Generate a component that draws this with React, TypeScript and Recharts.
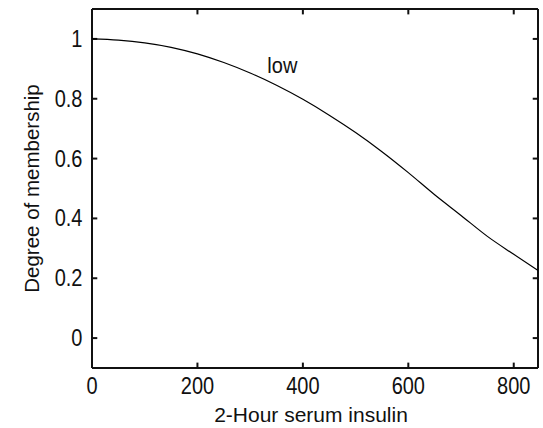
import { LineChart, Line, XAxis, YAxis, ReferenceDot, ReferenceLine } from "recharts";

// Membership curve
const insulin = [0, 50, 100, 150, 200, 250, 300, 350, 400, 450, 500, 550, 600, 650, 700, 750, 800, 846];
const membership = [1.0, 0.996, 0.987, 0.972, 0.95, 0.921, 0.886, 0.845, 0.798, 0.745, 0.687, 0.623, 0.553, 0.479, 0.41, 0.34, 0.28, 0.226];

const xTicks = [0, 200, 400, 600, 800];
const yTicks = [0, 0.2, 0.4, 0.6, 0.8, 1];
const xTitle = "2-Hour serum insulin";
const yTitle = "Degree of membership";
const curveLabel = "low";

const data = insulin.map((x, i) => ({ x, y: membership[i] }));

const FONT = "'Liberation Sans', Arial, Helvetica, sans-serif";
const FS = 20;
const STRETCH = 1.17; // the original's lettering is a bit taller than wide
const INK = "#111";
const X_MIN = 0;
const X_MAX = 846;
const Y_MIN = -0.1;
const Y_MAX = 1.1;
// inward tick length (~5px) expressed in axis units
const TICK_X = 10;
const TICK_Y = 0.018;

function BottomTick(props: any) {
  const { x, y, payload } = props;
  return (
    <text transform={`translate(${x}, ${y + 26}) scale(1, ${STRETCH})`} textAnchor="middle" fill={INK} fontSize={FS} fontFamily={FONT}>
      {String(payload.value)}
    </text>
  );
}

function LeftTick(props: any) {
  const { x, y, payload } = props;
  return (
    <text transform={`translate(${x - 9.5}, ${y + 8}) scale(1, ${STRETCH})`} textAnchor="end" fill={INK} fontSize={FS} fontFamily={FONT}>
      {String(payload.value)}
    </text>
  );
}

function XTitle(props: any) {
  const vb = props.viewBox || { x: 92, y: 368, width: 446, height: 60 };
  return (
    <text x={vb.x + vb.width / 2 - 4} y={422} textAnchor="middle" fill={INK} fontSize={21} fontFamily={FONT}>
      {xTitle}
    </text>
  );
}

function YTitle(props: any) {
  const vb = props.viewBox || { y: 9, height: 359 };
  const cx = 38.5;
  const cy = vb.y + vb.height / 2;
  return (
    <text x={cx} y={cy} transform={`rotate(-90, ${cx}, ${cy})`} textAnchor="middle" fill={INK} fontSize={20.5} fontFamily={FONT}>
      {yTitle}
    </text>
  );
}

function CurveLabel(props: any) {
  const vb = props.viewBox || { x: 0, y: 0 };
  return (
    <text transform={`translate(${vb.x}, ${vb.y}) scale(1, 1.1)`} textAnchor="middle" fill={INK} fontSize={FS} fontFamily={FONT}>
      {curveLabel}
    </text>
  );
}

export default function App() {
  const ref = { xAxisId: "b", yAxisId: "l", strokeWidth: 2, ifOverflow: "visible" as const };
  return (
    <div style={{ position: "absolute", left: 0, top: 0, width: 543, height: 428, background: "#fff" }}>
      <LineChart width={543} height={428} data={data} margin={{ top: 9, right: 5, left: 0, bottom: 0 }}>
        <XAxis xAxisId="b" dataKey="x" type="number" domain={[X_MIN, X_MAX]} ticks={xTicks} interval={0} allowDataOverflow height={60} tickSize={0} tickMargin={0} axisLine={false} tickLine={false} tick={<BottomTick />} label={<XTitle />} />
        <YAxis yAxisId="l" type="number" domain={[Y_MIN, Y_MAX]} ticks={yTicks} interval={0} allowDataOverflow width={92} tickSize={0} tickMargin={0} axisLine={false} tickLine={false} tick={<LeftTick />} label={<YTitle />} />

        {/* MATLAB-style box */}
        <ReferenceLine {...ref} stroke="#111" x={X_MIN} />
        <ReferenceLine {...ref} stroke="#111" x={X_MAX} />
        <ReferenceLine {...ref} stroke="#111" y={Y_MIN} />
        <ReferenceLine {...ref} stroke="#111" y={Y_MAX} />

        {/* inward ticks on all four sides */}
        {xTicks.map((t) => (
          <ReferenceLine key={`xb${t}`} {...ref} stroke="#111" segment={[{ x: t, y: Y_MIN }, { x: t, y: Y_MIN + TICK_Y }]} />
        ))}
        {xTicks.map((t) => (
          <ReferenceLine key={`xt${t}`} {...ref} stroke="#111" segment={[{ x: t, y: Y_MAX }, { x: t, y: Y_MAX - TICK_Y }]} />
        ))}
        {yTicks.map((t) => (
          <ReferenceLine key={`yl${t}`} {...ref} stroke="#111" segment={[{ x: X_MIN, y: t }, { x: X_MIN + TICK_X, y: t }]} />
        ))}
        {yTicks.map((t) => (
          <ReferenceLine key={`yr${t}`} {...ref} stroke="#111" segment={[{ x: X_MAX, y: t }, { x: X_MAX - TICK_X, y: t }]} />
        ))}

        <Line xAxisId="b" yAxisId="l" type="monotone" dataKey="y" stroke="#000" strokeWidth={1.2} dot={false} activeDot={false} isAnimationActive={false} />
        <ReferenceDot xAxisId="b" yAxisId="l" x={361} y={0.886} r={0} fill="none" stroke="none" label={<CurveLabel />} />
      </LineChart>
    </div>
  );
}
